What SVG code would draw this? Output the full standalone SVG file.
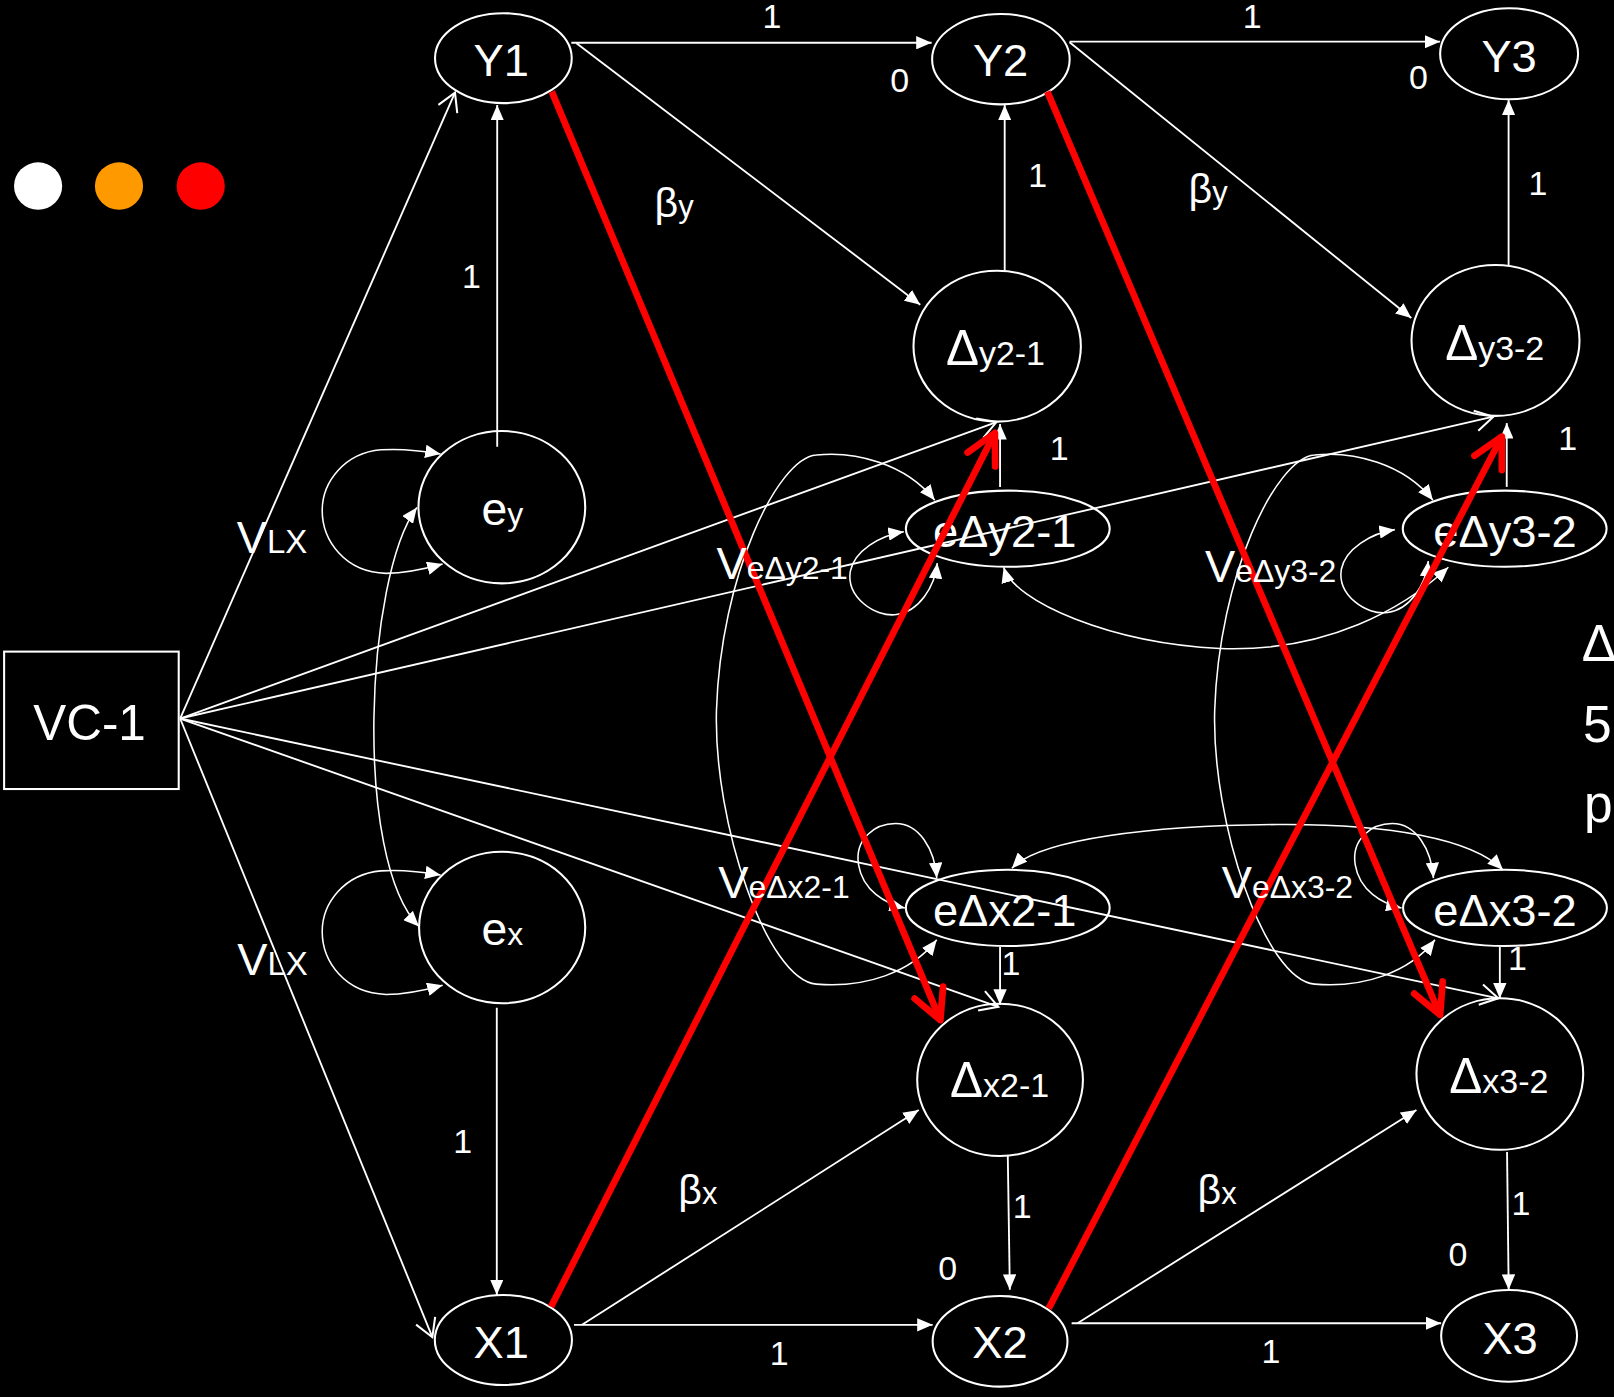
<svg xmlns="http://www.w3.org/2000/svg" width="1614" height="1397" viewBox="0 0 1614 1397">
<style>
.n{fill:none;stroke:#fff;stroke-width:2}
.c{fill:none;stroke:#fff;stroke-width:1.8}
.cv{fill:none;stroke:#fff;stroke-width:1.5}
.r{fill:none;stroke:#f00;stroke-width:6.5}
text{font-family:"Liberation Sans",Arial,sans-serif;fill:#fff}
.lbl{font-size:33px;text-anchor:middle}
.nt{font-size:44px;text-anchor:middle}
.mid{text-anchor:middle}
</style>
<defs>
<marker id="ah" viewBox="0 0 15 13" refX="15" refY="6.5" markerWidth="15" markerHeight="13" markerUnits="userSpaceOnUse" orient="auto-start-reverse"><path d="M0,0 L15,6.5 L0,13 z" fill="#fff"/></marker>
<marker id="oh" viewBox="-20 -12 22 24" refX="0" refY="0" markerWidth="22" markerHeight="24" markerUnits="userSpaceOnUse" orient="auto" overflow="visible"><path d="M-17.3,-10 L0,0 L-17.3,10" fill="none" stroke="#fff" stroke-width="2"/></marker>
<marker id="rh" viewBox="-32 -18 34 36" refX="0" refY="0" markerWidth="34" markerHeight="36" markerUnits="userSpaceOnUse" orient="auto" overflow="visible"><path d="M-29,-15 L0,0 L-29,15" fill="none" stroke="#f00" stroke-width="6.5" stroke-linejoin="round" stroke-linecap="round"/></marker>
</defs>
<rect x="0" y="0" width="1614" height="1397" fill="#000"/>
<g transform="scale(1.0294)">
<g id="legend-dots">
<ellipse cx="37" cy="180.7" rx="23.4" ry="23" fill="#fff"/>
<ellipse cx="115.6" cy="180.7" rx="23.4" ry="23" fill="#f90"/>
<ellipse cx="195" cy="180.7" rx="23.4" ry="23" fill="#f00"/>
</g>
<g id="node-VC1"><rect class="n" x="4" y="633" width="169.6" height="133.5"/><text x="87" y="719" font-size="48" class="mid">VC-1</text></g>
<g id="node-Y1"><ellipse class="n" cx="489" cy="56.5" rx="66.4" ry="43.7"/><text class="nt" x="487" y="74">Y1</text></g>
<g id="node-Y2"><ellipse class="n" cx="972.3" cy="57.5" rx="66.8" ry="43.9"/><text class="nt" x="972" y="74">Y2</text></g>
<g id="node-Y3"><ellipse class="n" cx="1466" cy="52.3" rx="67" ry="44.2"/><text class="nt" x="1466" y="70">Y3</text></g>
<g id="node-X1"><ellipse class="n" cx="489" cy="1301.7" rx="66.6" ry="43.7"/><text class="nt" x="487" y="1319.5">X1</text></g>
<g id="node-X2"><ellipse class="n" cx="971.5" cy="1303" rx="65.5" ry="44"/><text class="nt" x="971.5" y="1319.5">X2</text></g>
<g id="node-X3"><ellipse class="n" cx="1466" cy="1297.7" rx="66" ry="44.5"/><text class="nt" x="1467" y="1315">X3</text></g>
<g id="node-dy21"><ellipse class="n" cx="968.7" cy="336.3" rx="81.3" ry="73.3"/><text class="mid" x="967" y="354.6"><tspan font-size="48">Δ</tspan><tspan font-size="33">y2-1</tspan></text></g>
<g id="node-dy32"><ellipse class="n" cx="1452.8" cy="330.7" rx="81.6" ry="73.3"/><text class="mid" x="1452" y="349.7"><tspan font-size="48">Δ</tspan><tspan font-size="33">y3-2</tspan></text></g>
<g id="node-dx21"><ellipse class="n" cx="971.5" cy="1049" rx="80.5" ry="74"/><text class="mid" x="971" y="1065.4"><tspan font-size="48">Δ</tspan><tspan font-size="33">x2-1</tspan></text></g>
<g id="node-dx32"><ellipse class="n" cx="1457" cy="1043.4" rx="81" ry="73.6"/><text class="mid" x="1456" y="1062"><tspan font-size="48">Δ</tspan><tspan font-size="33">x3-2</tspan></text></g>
<g id="node-ey"><ellipse class="n" cx="487.5" cy="492.7" rx="81" ry="74"/><text class="mid" x="488" y="510"><tspan font-size="45">e</tspan><tspan font-size="31">y</tspan></text></g>
<g id="node-ex"><ellipse class="n" cx="487.8" cy="901" rx="80.7" ry="73.6"/><text class="mid" x="488" y="918"><tspan font-size="45">e</tspan><tspan font-size="31">x</tspan></text></g>
<g id="node-edy21"><ellipse class="n" cx="979" cy="513.6" rx="99" ry="37"/><text class="nt" x="976" y="531">eΔy2-1</text></g>
<g id="node-edy32"><ellipse class="n" cx="1461.7" cy="513.6" rx="99" ry="37"/><text class="nt" x="1462" y="531">eΔy3-2</text></g>
<g id="node-edx21"><ellipse class="n" cx="979" cy="882" rx="99" ry="37"/><text class="nt" x="976" y="900">eΔx2-1</text></g>
<g id="node-edx32"><ellipse class="n" cx="1462" cy="882" rx="99" ry="37"/><text class="nt" x="1462" y="900">eΔx3-2</text></g>

<g id="connectors">
<path class="c" d="M555,41.5 L905,41.5" marker-end="url(#ah)"/>
<path class="c" d="M1039,40.5 L1399,40.5" marker-end="url(#ah)"/>
<path class="c" d="M560,42 L894,296" marker-end="url(#ah)"/>
<path class="c" d="M1039,41 L1371,309" marker-end="url(#ah)"/>
<path class="c" d="M976,263 L976,102" marker-end="url(#ah)"/>
<path class="c" d="M1465.5,257.5 L1465.5,97" marker-end="url(#ah)"/>
<path class="c" d="M483,434 L483,102" marker-end="url(#ah)"/>
<path class="c" d="M482.6,979 L482.6,1258" marker-end="url(#ah)"/>
<path class="c" d="M175,698 L442,90" marker-end="url(#oh)"/>
<path class="c" d="M175,698 L420,1299" marker-end="url(#oh)"/>
<path class="c" d="M175,698 L968,410" marker-end="url(#oh)"/>
<path class="c" d="M175,698 L1450.7,404.8" marker-end="url(#oh)"/>
<path class="c" d="M175,698 L969.8,978" marker-end="url(#oh)"/>
<path class="c" d="M175,698 L1455.5,969.8" marker-end="url(#oh)"/>
<path class="c" d="M971.5,473 L971.5,412" marker-end="url(#ah)"/>
<path class="c" d="M1463.7,473 L1463.7,411" marker-end="url(#ah)"/>
<path class="c" d="M971.5,920 L971.5,976" marker-end="url(#ah)"/>
<path class="c" d="M1457,920 L1457,970" marker-end="url(#ah)"/>
<path class="c" d="M979,1123 L981,1253" marker-end="url(#ah)"/>
<path class="c" d="M1464,1119 L1465.6,1253" marker-end="url(#ah)"/>
<path class="c" d="M557.6,1287 L906,1287" marker-end="url(#ah)"/>
<path class="c" d="M1041,1285.5 L1400,1285.5" marker-end="url(#ah)"/>
<path class="c" d="M565.4,1287 L892.5,1078.3" marker-end="url(#ah)"/>
<path class="c" d="M1046.7,1285.5 L1376,1078.3" marker-end="url(#ah)"/>

<path class="cv" d="M405,493 C355,560 343,835 407,900" marker-start="url(#ah)" marker-end="url(#ah)"/>
<path class="cv" d="M428,441 C405,437 385,436 370,437 C335,440 313,468 313,496 C313,525 335,556 375,557 C395,557 412,553 430,548" marker-start="url(#ah)" marker-end="url(#ah)"/>
<path class="cv" transform="translate(0,409)" d="M428,441 C405,437 385,436 370,437 C335,440 313,468 313,496 C313,525 335,556 375,557 C395,557 412,553 430,548" marker-start="url(#ah)" marker-end="url(#ah)"/>
<path class="cv" d="M878,516.5 C855,520 830,535 826,555 C822,580 850,600 871,597 C893,594 908,570 910.5,547" marker-start="url(#ah)" marker-end="url(#ah)"/>
<path class="cv" transform="translate(477,-2)" d="M878,516.5 C855,520 830,535 826,555 C822,580 850,600 871,597 C893,594 908,570 910.5,547" marker-start="url(#ah)" marker-end="url(#ah)"/>
<path class="cv" d="M879,882 C860,878 838,865 834,840 C830,815 850,800 870,800 C893,800 908,825 910,853" marker-start="url(#ah)" marker-end="url(#ah)"/>
<path class="cv" transform="translate(482.5,0)" d="M879,882 C860,878 838,865 834,840 C830,815 850,800 870,800 C893,800 908,825 910,853" marker-start="url(#ah)" marker-end="url(#ah)"/>
<path class="cv" d="M908,486 C880,450 830,438 793,442 C755,445 700,560 696,690 C693,800 745,952 793,956 C840,960 885,945 910,913" marker-start="url(#ah)" marker-end="url(#ah)"/>
<path class="cv" transform="translate(484,0)" d="M908,486 C880,450 830,438 793,442 C755,445 700,560 696,690 C693,800 745,952 793,956 C840,960 885,945 910,913" marker-start="url(#ah)" marker-end="url(#ah)"/>
<path class="cv" d="M975,551 C985,585 1080,625 1185,630 C1290,634 1365,590 1407,551" marker-start="url(#ah)" marker-end="url(#ah)"/>
<path class="cv" d="M983,843.5 C1010,815 1120,802 1240,801 C1350,800 1430,815 1460,845" marker-start="url(#ah)" marker-end="url(#ah)"/>

<path class="r" d="M536,89 L913.5,991" marker-end="url(#rh)"/>
<path class="r" d="M1017.4,89 L1399,986" marker-end="url(#rh)"/>
<path class="r" d="M535.3,1269.4 L966.5,420.5" marker-end="url(#rh)"/>
<path class="r" d="M1018.8,1271 L1459,424" marker-end="url(#rh)"/>
</g>

<g id="labels">
<text class="lbl" x="750" y="27">1</text>
<text class="lbl" x="1216.5" y="27.5">1</text>
<text class="lbl" x="874" y="89">0</text>
<text class="lbl" x="1378" y="86">0</text>
<text class="lbl" x="1008" y="181.4">1</text>
<text class="lbl" x="1494" y="189.4">1</text>
<text class="lbl" x="458" y="279.5">1</text>
<text class="lbl" x="1029" y="446.9">1</text>
<text class="lbl" x="1523" y="437">1</text>
<text class="lbl" x="982" y="947">1</text>
<text class="lbl" x="1474" y="942">1</text>
<text class="lbl" x="449.5" y="1120">1</text>
<text class="lbl" x="993" y="1183.5">1</text>
<text class="lbl" x="1477.6" y="1180">1</text>
<text class="lbl" x="920.6" y="1243.5">0</text>
<text class="lbl" x="1416.4" y="1229.8">0</text>
<text class="lbl" x="757" y="1326">1</text>
<text class="lbl" x="1234.7" y="1324.4">1</text>
<text x="635.8" y="211"><tspan font-size="40">β</tspan><tspan font-size="30">y</tspan></text>
<text x="1154.6" y="197"><tspan font-size="40">β</tspan><tspan font-size="30">y</tspan></text>
<text x="659" y="1170"><tspan font-size="40">β</tspan><tspan font-size="30">x</tspan></text>
<text x="1163.3" y="1170"><tspan font-size="40">β</tspan><tspan font-size="30">x</tspan></text>
<text x="230" y="537"><tspan font-size="44">V</tspan><tspan font-size="32">LX</tspan></text>
<text x="230.5" y="947"><tspan font-size="44">V</tspan><tspan font-size="32">LX</tspan></text>
<text x="696" y="562"><tspan font-size="44">V</tspan><tspan font-size="31">eΔy2-1</tspan></text>
<text x="1170.6" y="565"><tspan font-size="44">V</tspan><tspan font-size="31">eΔy3-2</tspan></text>
<text x="697.8" y="872.7"><tspan font-size="44">V</tspan><tspan font-size="31">eΔx2-1</tspan></text>
<text x="1186.8" y="872.7"><tspan font-size="44">V</tspan><tspan font-size="31">eΔx3-2</tspan></text>
<text x="1536.6" y="642" font-size="50">Δ</text>
<text x="1537.8" y="720.5" font-size="50">5</text>
<text x="1538.8" y="799" font-size="50">p</text>
</g>
</g>
</svg>
